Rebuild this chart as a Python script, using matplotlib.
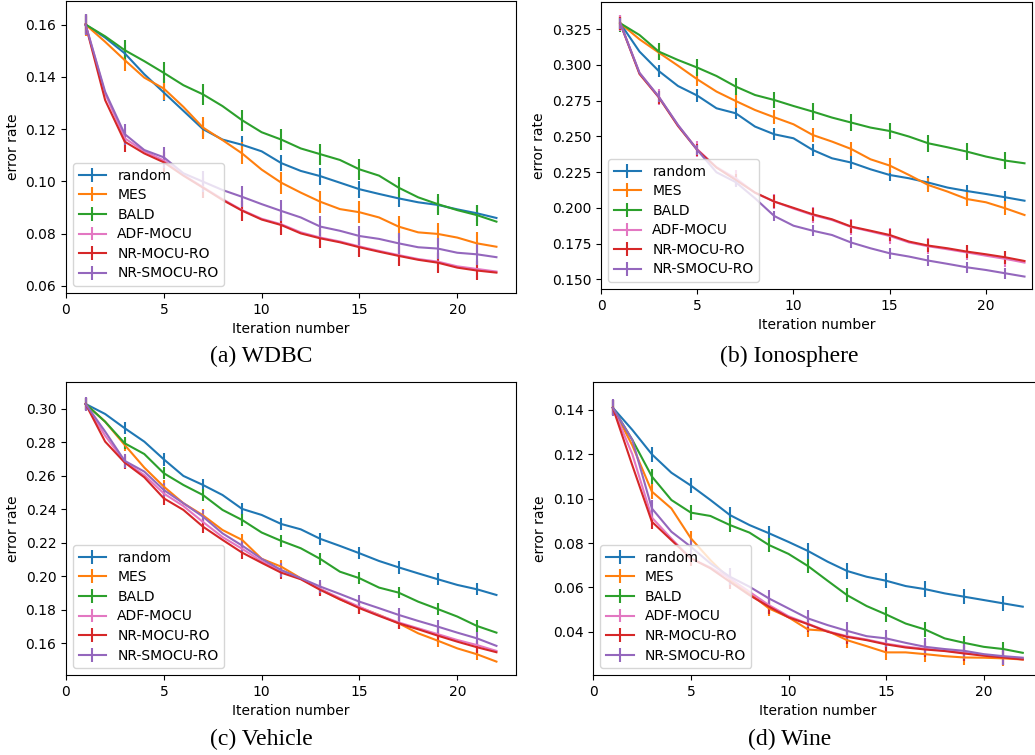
import matplotlib
matplotlib.use('Agg')
import matplotlib.pyplot as plt
from matplotlib.ticker import MultipleLocator

# iteration numbers
iterations = list(range(1, 23))
methods = ['random', 'MES', 'BALD', 'ADF-MOCU', 'NR-MOCU-RO', 'NR-SMOCU-RO']
colors = ['tab:blue', 'tab:orange', 'tab:green', 'tab:pink', 'tab:red', 'tab:purple']

# (a) WDBC
wdbc_random = [0.160, 0.155, 0.149, 0.141, 0.134, 0.127, 0.120, 0.116, 0.114, 0.1115, 0.107,
               0.104, 0.102, 0.0995, 0.097, 0.0952, 0.0935, 0.092, 0.091, 0.0893, 0.0878, 0.086]
wdbc_mes = [0.160, 0.1534, 0.1464, 0.1397, 0.1355, 0.1285, 0.1206, 0.1158, 0.1107, 0.1045, 0.0995,
            0.0957, 0.0922, 0.0894, 0.0882, 0.0862, 0.0827, 0.0805, 0.0799, 0.0785, 0.0763, 0.075]
wdbc_bald = [0.160, 0.1555, 0.1502, 0.146, 0.1415, 0.1368, 0.1333, 0.1288, 0.1234, 0.1188, 0.116,
             0.1126, 0.1104, 0.1082, 0.1046, 0.1022, 0.0976, 0.0939, 0.0913, 0.089, 0.0871, 0.0846]
wdbc_adf = [0.160, 0.1336, 0.1165, 0.1115, 0.108, 0.1025, 0.0978, 0.0932, 0.089, 0.0857, 0.0836,
            0.0805, 0.0785, 0.077, 0.0751, 0.0734, 0.0718, 0.0703, 0.0693, 0.0675, 0.0665, 0.0655]
wdbc_nr_mocu = [0.160, 0.1311, 0.1152, 0.1107, 0.1073, 0.1022, 0.0976, 0.0929, 0.0888, 0.0854, 0.0833,
                0.0801, 0.0782, 0.0767, 0.0748, 0.0731, 0.0715, 0.070, 0.0689, 0.067, 0.0659, 0.0651]
wdbc_nr_smocu = [0.160, 0.1343, 0.1181, 0.112, 0.1092, 0.1031, 0.0999, 0.0967, 0.0941, 0.0913, 0.0887,
                 0.0862, 0.0827, 0.0811, 0.0791, 0.078, 0.0763, 0.0748, 0.0743, 0.0727, 0.0721, 0.071]
wdbc_err = [0.0032, 0.0042, 0.0040, 0.0038, 0.0038, 0.0040]

# (b) Ionosphere
iono_random = [0.3292, 0.3094, 0.2958, 0.2853, 0.2786, 0.2697, 0.2662, 0.2569, 0.2515, 0.2487, 0.2405,
               0.2347, 0.2317, 0.227, 0.223, 0.2207, 0.2177, 0.2142, 0.2118, 0.2097, 0.2074, 0.205]
iono_mes = [0.3292, 0.318, 0.3087, 0.2995, 0.290, 0.2814, 0.2748, 0.2685, 0.2634, 0.2585, 0.251,
            0.2464, 0.2412, 0.234, 0.2296, 0.223, 0.216, 0.2114, 0.2062, 0.2039, 0.1997, 0.195]
iono_bald = [0.3292, 0.321, 0.3094, 0.3035, 0.2982, 0.2923, 0.2849, 0.279, 0.2755, 0.2713, 0.2674,
             0.2632, 0.2597, 0.2562, 0.2538, 0.2499, 0.2452, 0.2424, 0.2394, 0.2359, 0.2331, 0.2312]
iono_adf = [0.3292, 0.2945, 0.2778, 0.2578, 0.241, 0.2285, 0.2207, 0.2105, 0.2044, 0.1995, 0.195,
            0.1915, 0.1866, 0.1835, 0.1803, 0.1758, 0.1731, 0.171, 0.1688, 0.1665, 0.1643, 0.1617]
iono_nr_mocu = [0.3292, 0.2937, 0.2774, 0.2573, 0.2405, 0.2282, 0.2195, 0.2107, 0.2044, 0.2000, 0.1955,
                0.192, 0.1869, 0.184, 0.181, 0.1764, 0.1736, 0.1717, 0.1694, 0.1675, 0.1654, 0.1628]
iono_nr_smocu = [0.3292, 0.2945, 0.2778, 0.258, 0.2405, 0.2249, 0.218, 0.2067, 0.1943, 0.1875, 0.184,
                 0.181, 0.1757, 0.1717, 0.1682, 0.1659, 0.1631, 0.1608, 0.1584, 0.1565, 0.1542, 0.1519]
iono_err = [0.0043, 0.0050, 0.0058, 0.0055, 0.0045, 0.0037]

# (c) Vehicle
vehicle_random = [0.303, 0.297, 0.2885, 0.2805, 0.2699, 0.260, 0.2546, 0.2486, 0.2403, 0.2367, 0.2313,
                  0.2281, 0.2224, 0.2182, 0.2138, 0.2092, 0.2054, 0.2018, 0.1983, 0.1949, 0.1923, 0.1889]
vehicle_mes = [0.303, 0.2924, 0.2785, 0.265, 0.2536, 0.2437, 0.2365, 0.2277, 0.2218, 0.2105, 0.2058,
               0.1989, 0.1923, 0.1863, 0.1815, 0.177, 0.172, 0.166, 0.1616, 0.157, 0.1535, 0.1491]
vehicle_bald = [0.303, 0.2924, 0.2795, 0.2731, 0.2616, 0.2546, 0.2486, 0.2397, 0.2337, 0.2262, 0.2212,
                0.2168, 0.2104, 0.2028, 0.1989, 0.1933, 0.1903, 0.1849, 0.1805, 0.176, 0.1704, 0.1664]
vehicle_adf = [0.303, 0.284, 0.2685, 0.2605, 0.2495, 0.242, 0.2325, 0.2235, 0.2165, 0.209, 0.2035,
               0.1985, 0.1925, 0.187, 0.1818, 0.1768, 0.1725, 0.169, 0.1655, 0.162, 0.159, 0.1555]
vehicle_nr_mocu = [0.303, 0.2805, 0.268, 0.2592, 0.2466, 0.2397, 0.2297, 0.2218, 0.2142, 0.2081, 0.2022,
                   0.1983, 0.1919, 0.1863, 0.181, 0.1764, 0.172, 0.1684, 0.1646, 0.161, 0.1577, 0.1547]
vehicle_nr_smocu = [0.303, 0.2865, 0.269, 0.2626, 0.2516, 0.2437, 0.2357, 0.2257, 0.2184, 0.2105, 0.2038,
                    0.1989, 0.1939, 0.1895, 0.1849, 0.181, 0.177, 0.1734, 0.170, 0.1664, 0.163, 0.1585]
vehicle_err = [0.0037, 0.0037, 0.0035, 0.0040, 0.0037, 0.0040]

# (d) Wine
wine_random = [0.141, 0.131, 0.120, 0.1117, 0.1059, 0.0994, 0.0926, 0.0881, 0.0844, 0.0805, 0.0764,
               0.0716, 0.0674, 0.0648, 0.063, 0.0606, 0.0592, 0.0573, 0.0558, 0.0543, 0.0528, 0.0513]
wine_mes = [0.141, 0.124, 0.1032, 0.0956, 0.0821, 0.0723, 0.0636, 0.0573, 0.0505, 0.0465, 0.041,
            0.0404, 0.0362, 0.0335, 0.0307, 0.0307, 0.0299, 0.029, 0.0284, 0.0283, 0.028, 0.0275]
wine_bald = [0.141, 0.1265, 0.110, 0.0994, 0.0937, 0.0922, 0.0881, 0.0847, 0.0791, 0.0751, 0.0696,
             0.063, 0.0565, 0.0516, 0.0478, 0.0437, 0.041, 0.037, 0.035, 0.0332, 0.0322, 0.0305]
wine_adf = [0.141, 0.120, 0.0915, 0.082, 0.073, 0.069, 0.064, 0.058, 0.052, 0.047, 0.0436,
            0.0402, 0.038, 0.0365, 0.0346, 0.0333, 0.0323, 0.0315, 0.0305, 0.0295, 0.0287, 0.0278]
wine_nr_mocu = [0.141, 0.115, 0.0896, 0.0813, 0.0731, 0.0686, 0.0625, 0.0565, 0.0513, 0.0465, 0.0434,
                0.040, 0.0377, 0.0362, 0.0343, 0.0329, 0.032, 0.0313, 0.0302, 0.0292, 0.0284, 0.0275]
wine_nr_smocu = [0.141, 0.1265, 0.0956, 0.0851, 0.0783, 0.0708, 0.0648, 0.0603, 0.055, 0.0505, 0.046,
                 0.043, 0.0404, 0.038, 0.037, 0.035, 0.0332, 0.0322, 0.0314, 0.0299, 0.029, 0.0283]
wine_err = [0.0035, 0.0035, 0.0033, 0.0035, 0.0033, 0.0038]

captions = ['(a) WDBC', '(b) Ionosphere', '(c) Vehicle', '(d) Wine']


def draw_panel(ax, series, errs, ylim, xmax):
    for vals, err, name, col in zip(series, errs, methods, colors):
        ax.errorbar(iterations, vals, yerr=err, errorevery=2, color=col, label=name)
    ax.set_xlim(0, xmax)
    ax.set_ylim(*ylim)
    ax.xaxis.set_major_locator(MultipleLocator(5))
    ax.set_xlabel('Iteration number')
    ax.set_ylabel('error rate')
    ax.legend(loc='lower left', labelspacing=0.4)


fig = plt.figure(figsize=(10.35, 7.55), dpi=100)

ax_a = fig.add_axes([66 / 1035, 1 - 293 / 755, 450 / 1035, 292.5 / 755])
draw_panel(ax_a, [wdbc_random, wdbc_mes, wdbc_bald, wdbc_adf, wdbc_nr_mocu, wdbc_nr_smocu],
           wdbc_err, (0.0573, 0.1692), 23.0)

ax_b = fig.add_axes([601 / 1035, 1 - 289 / 755, 431 / 1035, 287 / 755])
draw_panel(ax_b, [iono_random, iono_mes, iono_bald, iono_adf, iono_nr_mocu, iono_nr_smocu],
           iono_err, (0.1432, 0.3441), 22.39)

ax_c = fig.add_axes([66 / 1035, 1 - 675 / 755, 450 / 1035, 293 / 755])
draw_panel(ax_c, [vehicle_random, vehicle_mes, vehicle_bald, vehicle_adf, vehicle_nr_mocu, vehicle_nr_smocu],
           vehicle_err, (0.1411, 0.3161), 23.0)

ax_d = fig.add_axes([593.3 / 1035, 1 - 675 / 755, 449 / 1035, 293 / 755])
draw_panel(ax_d, [wine_random, wine_mes, wine_bald, wine_adf, wine_nr_mocu, wine_nr_smocu],
           wine_err, (0.0205, 0.1526), 23.0)

# captions under each subfigure
cap_pos = [(261, 362), (789, 362), (261, 745), (790, 745)]
for text, (cx, cy) in zip(captions, cap_pos):
    fig.text(cx / 1035, 1 - cy / 755, text, ha='center', va='baseline',
             fontsize=17, family=['Liberation Serif', 'DejaVu Serif'])

plt.savefig('out.png', dpi=100)
